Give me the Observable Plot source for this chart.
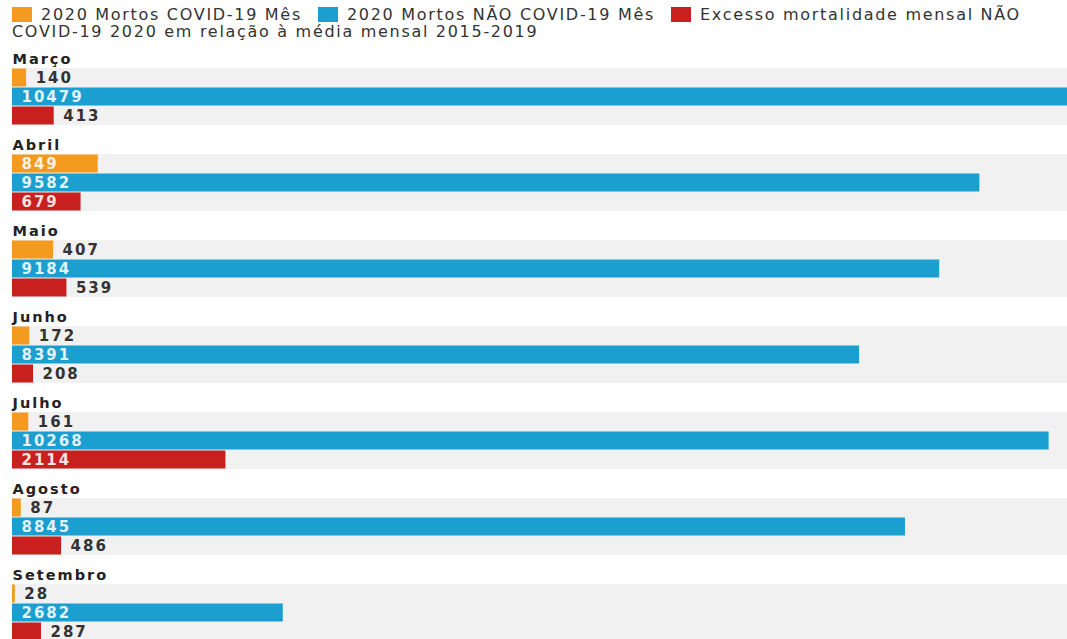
<!DOCTYPE html>
<html>
<head>
<meta charset="utf-8">
<script src="https://cdn.jsdelivr.net/npm/d3@7"></script>
<script src="https://cdn.jsdelivr.net/npm/@observablehq/plot@0.6"></script>
<style>
  html, body { margin: 0; padding: 0; background: #fff; overflow: hidden; }
  body { font-family: "DejaVu Sans", sans-serif; }
  #legend { height: 40px; box-sizing: border-box; padding: 6px 0 0 12px; white-space: nowrap;
    font-size: 16px; line-height: 17px; letter-spacing: 1.7px; color: #333; }
  #legend .sw { display: inline-block; width: 20px; height: 15px; vertical-align: -2px; margin-right: 9px; }
  #legend .item { margin-right: 16px; }
  #chart svg { display: block; }
  #chart svg text { letter-spacing: 2px; }
</style>
</head>
<body>
<div id="legend"></div>
<div id="chart"></div>
<script>
const months = ["Março", "Abril", "Maio", "Junho", "Julho", "Agosto", "Setembro"];
const seriesNames = [
  "2020 Mortos COVID-19 Mês",
  "2020 Mortos NÃO COVID-19 Mês",
  "Excesso mortalidade mensal NÃO COVID-19 2020 em relação à média mensal 2015-2019"
];
const covid = [140, 849, 407, 172, 161, 87, 28];
const naoCovid = [10479, 9582, 9184, 8391, 10268, 8845, 2682];
const excesso = [413, 679, 539, 208, 2114, 486, 287];
const colors = ["#f39a1f", "#1a9fd0", "#c8201f"];

const seriesValues = [covid, naoCovid, excesso];
const rows = months.flatMap((m, i) =>
  seriesValues.map((arr, j) => ({month: m, series: seriesNames[j], value: arr[i]})));
const labelRow = "__label";
const labels = months.map(m => ({month: m, row: labelRow}));
const xMax = 10450;
const inside = d => d.value >= 600;

// Legend (HTML)
const legend = document.getElementById("legend");
legend.innerHTML =
  `<span class="item"><span class="sw" style="background:${colors[0]}"></span>${seriesNames[0]}</span>` +
  `<span class="item"><span class="sw" style="background:${colors[1]}"></span>${seriesNames[1]}</span>` +
  `<span class="item"><span class="sw" style="background:${colors[2]}"></span>Excesso mortalidade mensal NÃO<br>COVID-19 2020 em relação à média mensal 2015-2019</span>`;

const chart = Plot.plot({
  width: 1067,
  height: 602,
  marginTop: 7,
  marginBottom: 0,
  marginLeft: 12,
  marginRight: 0,
  style: {fontFamily: "DejaVu Sans, sans-serif", background: "transparent"},
  x: {domain: [0, xMax], axis: null},
  y: {domain: [labelRow, ...seriesNames], axis: null, padding: 0},
  fy: {domain: months, axis: null, paddingInner: 7 / 86, paddingOuter: 0},
  color: {domain: seriesNames, range: colors},
  marks: [
    Plot.barX(rows, {fy: "month", y: "series", x1: 0, x2: xMax, fill: "#f1f1f1"}),
    Plot.barX(rows, {fy: "month", y: "series", x: "value", fill: "series", insetTop: 0.5, insetBottom: 0.5}),
    Plot.text(rows.filter(inside), {
      fy: "month", y: "series", x: 0, text: d => String(d.value),
      textAnchor: "start", dx: 9, fill: "rgba(255,255,255,0.88)", fontSize: 15, fontWeight: "bold"
    }),
    Plot.text(rows.filter(d => !inside(d)), {
      fy: "month", y: "series", x: "value", text: d => String(d.value),
      textAnchor: "start", dx: 9, fill: "#333", fontSize: 15, fontWeight: "bold"
    }),
    Plot.text(labels, {
      fy: "month", y: "row", x: 0, text: "month",
      textAnchor: "start", fill: "#222", fontSize: 14.5, fontWeight: "bold"
    })
  ]
});
document.getElementById("chart").appendChild(chart);
</script>
</body>
</html>
